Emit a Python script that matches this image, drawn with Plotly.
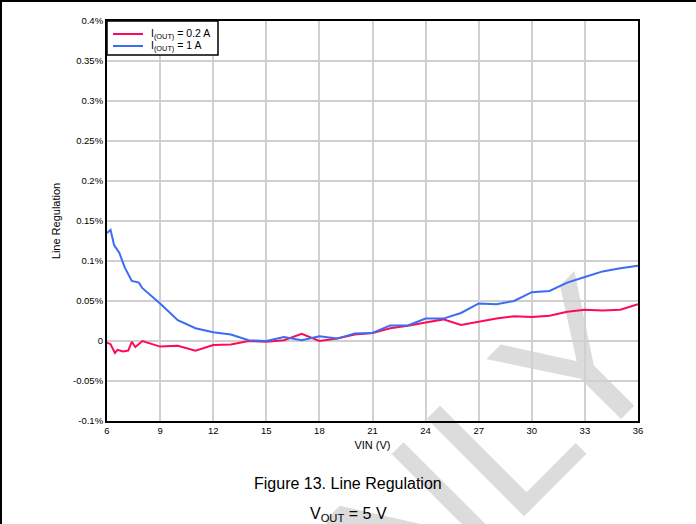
import plotly.graph_objects as go

# ---- data (Line Regulation, %) ----
vin_02 = [6.0, 6.2, 6.45, 6.6, 6.9, 7.2, 7.4, 7.6, 8.0, 9.0, 10.0, 11.0, 12.0, 13.0, 14.0,
          15, 16, 17, 18, 19, 20, 21, 22, 23, 24, 25, 26, 27, 28, 29, 30, 31, 32, 33, 34, 35, 36]
reg_02 = [-0.002, -0.004, -0.015, -0.011, -0.013, -0.012, -0.001, -0.0075, 0.0, -0.007, -0.006,
          -0.012, -0.005, -0.0045, 0.0, -0.001, 0.001, 0.009, 0.0, 0.003, 0.008, 0.010, 0.016,
          0.019, 0.023, 0.027, 0.020, 0.024, 0.028, 0.031, 0.030, 0.0315, 0.0365, 0.039, 0.038,
          0.039, 0.046]

vin_1 = [6.0, 6.2, 6.4, 6.7, 7.0, 7.4, 7.8, 8.0, 9.0, 10.0, 11.0, 12.0, 13.0, 14.0,
         15, 16, 17, 18, 19, 20, 21, 22, 23, 24, 25, 26, 27, 28, 29, 30, 31, 32, 33, 34, 35, 36]
reg_1 = [0.135, 0.139, 0.12, 0.11, 0.092, 0.075, 0.073, 0.066, 0.047, 0.026, 0.016, 0.011,
         0.008, 0.001, 0.0, 0.005, 0.001, 0.006, 0.003, 0.0095, 0.010, 0.0195, 0.0195, 0.028,
         0.028, 0.035, 0.047, 0.046, 0.050, 0.061, 0.0625, 0.073, 0.080, 0.087, 0.091, 0.094]

x_ticks = [6, 9, 12, 15, 18, 21, 24, 27, 30, 33, 36]
y_ticks = [-0.1, -0.05, 0, 0.05, 0.1, 0.15, 0.2, 0.25, 0.3, 0.35, 0.4]
y_ticklabels = ["-0.1%", "-0.05%", "0", "0.05%", "0.1%", "0.15%", "0.2%", "0.25%", "0.3%", "0.35%", "0.4%"]

series_names = ["I<sub>(OUT)</sub> = 0.2 A", "I<sub>(OUT)</sub> = 1 A"]
series_colors = ["#ff0a55", "#3a6cf4"]
FONT = "Liberation Sans, Arial, sans-serif"

fig = go.Figure()
fig.add_trace(go.Scatter(x=vin_02, y=reg_02, mode="lines", name=series_names[0],
                         line=dict(color=series_colors[0], width=2), showlegend=False))
fig.add_trace(go.Scatter(x=vin_1, y=reg_1, mode="lines", name=series_names[1],
                         line=dict(color=series_colors[1], width=2), showlegend=False))

W, H = 696, 524
L, R, T, B = 107, 58, 21, 103
pw, ph = W - L - R, H - T - B

def px2paper_x(px):
    return (px - L) / pw

def px2paper_y(py):
    return (H - B - py) / ph

fig.update_layout(
    width=W, height=H,
    margin=dict(l=L, r=R, t=T, b=B, pad=0),
    paper_bgcolor="white",
    plot_bgcolor="rgba(0,0,0,0)",
    font=dict(family=FONT, color="black", size=10),
    showlegend=False,
    xaxis=dict(range=[6, 36], tickvals=x_ticks, ticks="", showgrid=True,
               gridcolor="#d0d0d0", gridwidth=1.5, zeroline=False,
               showline=True, linecolor="black", linewidth=2, mirror=True,
               tickfont=dict(size=9.5), title=dict(text="VIN (V)", font=dict(size=11), standoff=6)),
    yaxis=dict(range=[-0.1, 0.4], tickvals=y_ticks, ticktext=y_ticklabels, ticks="",
               showgrid=True, gridcolor="#d0d0d0", gridwidth=1.5, zeroline=False,
               showline=True, linecolor="black", linewidth=2, mirror=True,
               tickfont=dict(size=9.5), title=dict(text="Line Regulation", font=dict(size=11), standoff=10)),
)

# watermark (below traces)
fig.add_shape(type="rect", xref="paper", yref="paper",
              x0=px2paper_x(255), x1=px2paper_x(595), y0=px2paper_y(640), y1=px2paper_y(340),
              line=dict(width=0), fillcolor="rgba(0,0,0,0)", layer="below",
              label=dict(text="ONLY", textangle=-45, textposition="middle center",
                         font=dict(family=FONT, size=200, color="#dcdcdc")))

# legend box (drawn manually for compact rows)
fig.add_shape(type="rect", xref="paper", yref="paper",
              x0=px2paper_x(107), x1=px2paper_x(218), y0=px2paper_y(55), y1=px2paper_y(21),
              line=dict(color="black", width=1.5), fillcolor="white", layer="above")
legend_rows_y = [34, 46]
for name, color, ry in zip(series_names, series_colors, legend_rows_y):
    fig.add_shape(type="line", xref="paper", yref="paper",
                  x0=px2paper_x(113), x1=px2paper_x(143), y0=px2paper_y(ry), y1=px2paper_y(ry),
                  line=dict(color=color, width=2))
    fig.add_annotation(text=name, xref="paper", yref="paper",
                       x=px2paper_x(149), y=px2paper_y(ry), xanchor="left", yanchor="middle",
                       showarrow=False, font=dict(family=FONT, size=10.5, color="black"))

# page border (top and left)
fig.add_shape(type="line", xref="paper", yref="paper",
              x0=px2paper_x(0), x1=px2paper_x(W), y0=px2paper_y(1), y1=px2paper_y(1),
              line=dict(color="black", width=2))
fig.add_shape(type="line", xref="paper", yref="paper",
              x0=px2paper_x(1), x1=px2paper_x(1), y0=px2paper_y(0), y1=px2paper_y(H),
              line=dict(color="black", width=2))

# captions
fig.add_annotation(text="Figure 13. Line Regulation", xref="paper", yref="paper",
                   x=px2paper_x(348), y=px2paper_y(483), xanchor="center", yanchor="middle",
                   showarrow=False, font=dict(family=FONT, size=16, color="black"))
fig.add_annotation(text="V<sub>OUT</sub> = 5 V", xref="paper", yref="paper",
                   x=px2paper_x(348), y=px2paper_y(514), xanchor="center", yanchor="middle",
                   showarrow=False, font=dict(family=FONT, size=16, color="black"))

fig.write_html("out.html")
